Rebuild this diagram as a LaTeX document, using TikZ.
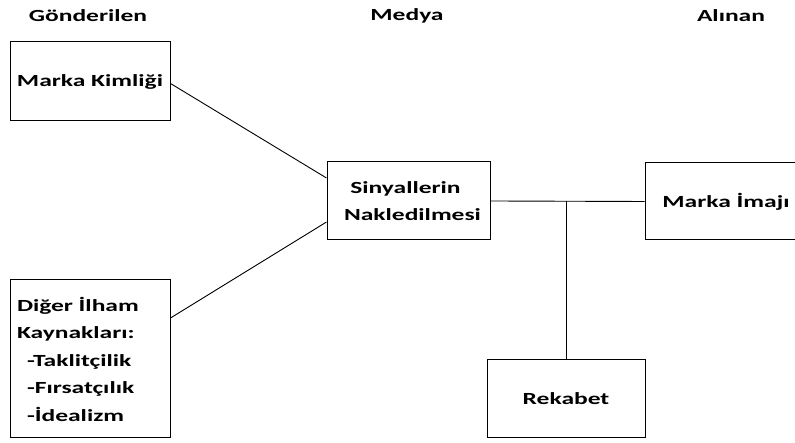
\documentclass[tikz,border=0pt]{standalone}
\usepackage{fontspec}
\setmainfont{Carlito}[FakeStretch=1.5]
\begin{document}
\begin{tikzpicture}[x=1pt,y=1pt,
  box/.style={draw, line width=1pt, fill=white, inner sep=0pt, font=\bfseries\fontsize{17}{27.5}\selectfont},
  title/.style={font=\bfseries\fontsize{17}{20}\selectfont},
  link/.style={draw, line width=0.9pt}]
\useasboundingbox (0,0) rectangle (795,443);
\node[title] (tg) at (88,427) {Gönderilen};
\node[title] (tm) at (407,427) {Medya};
\node[title] (ta) at (731,427) {Alınan};

\node[box, minimum width=160pt, minimum height=79pt] (mk) at (90,361.5) {Marka Kimliği};
\node[box, minimum width=160pt, minimum height=158pt, text width=146pt, align=left] (di) at (90,84)
  {Diğer İlham\\Kaynakları:\\\hspace*{10pt}-Taklitçilik\\\hspace*{10pt}-Fırsatçılık\\\hspace*{10pt}-İdealizm};
\node[box, minimum width=163pt, minimum height=78pt, align=center] (sn) at (408.5,242)
  {\hspace*{-6pt}Sinyallerin\\\hspace*{8pt}Nakledilmesi};
\node[box, minimum width=158pt, minimum height=77pt] (mi) at (724,241.5) {\hspace*{4pt}Marka İmajı};
\node[box, minimum width=158pt, minimum height=78pt] (rk) at (566,44) {Rekabet};

\draw[link] ([yshift=-2pt]mk.east) -- ([yshift=23pt]sn.west);
\draw[link] ([yshift=41pt]di.east) -- ([yshift=-21pt]sn.west);
\draw[link] (sn.east) -- (mi.west);
\coordinate (jn) at (rk.north |- sn.east);
\draw[link] (jn) -- (rk.north);
\end{tikzpicture}
\end{document}
